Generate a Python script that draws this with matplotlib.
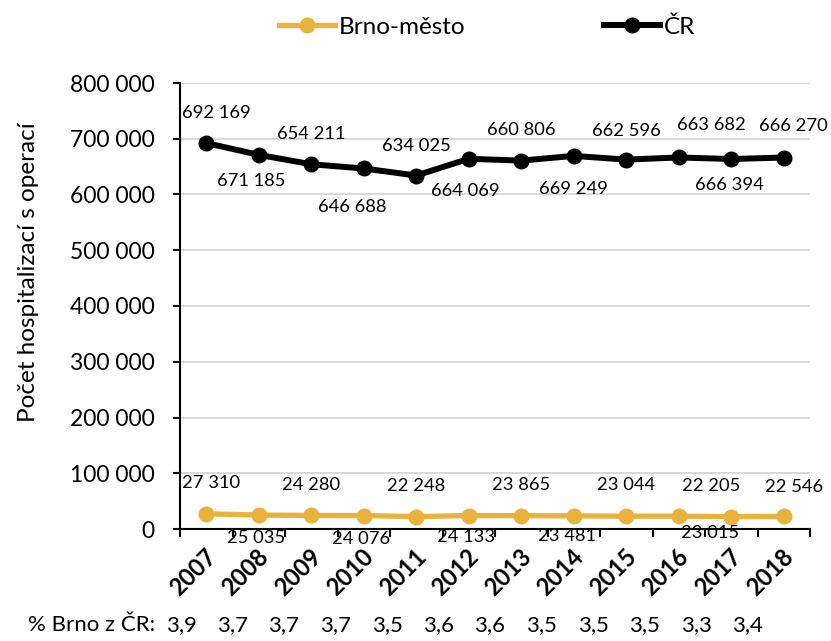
import matplotlib
matplotlib.use('Agg')
import matplotlib.pyplot as plt
import matplotlib.transforms as mtrans
from matplotlib.lines import Line2D
from matplotlib.ticker import FuncFormatter, FixedLocator
import numpy as np

# ---------------- data ----------------
years = ['2007', '2008', '2009', '2010', '2011', '2012',
         '2013', '2014', '2015', '2016', '2017', '2018']
brno = [27310, 25035, 24280, 24076, 22248, 24133,
        23865, 23481, 23044, 23015, 22205, 22546]
cr = [692169, 671185, 654211, 646688, 634025, 664069,
      660806, 669249, 662596, 666394, 663682, 666270]
pct_brno = [3.9, 3.7, 3.7, 3.7, 3.5, 3.6, 3.6, 3.5, 3.5, 3.5, 3.3, 3.4]
y_ticks = [0, 100000, 200000, 300000, 400000, 500000, 600000, 700000, 800000]
series_names = ['Brno-město', 'ČR']
y_title = 'Počet hospitalizací s operací'
pct_title = '% Brno z ČR:'

# label offsets in pixels (style / placement)
cr_off = [(10, 30), (-8, -26), (0, 30), (-11, -39), (0, 30), (-3, -32),
          (0, 31), (0, -33), (0, 29), (51, -28), (-20, 34), (10, 32)]
brno_off = [(5, 31), (-3, -23), (0, 30), (-3, -23), (0, 31), (-3, -21),
            (0, 31), (-7, -20), (0, 31), (31, -17), (-20, 31), (10, 29)]

FONT = ['Lato', 'DejaVu Sans']
plt.rcParams['font.family'] = FONT
GOLD = '#E9B23C'
GRID = '#D9D9D9'

W, H = 831, 641
fig = plt.figure(figsize=(W / 100, H / 100), dpi=100)
ax = fig.add_axes([180 / W, 1 - 529 / H, 630 / W, 446 / H])

x = np.arange(len(years))

ax.plot(x, cr, color='black', lw=4.3, marker='o', ms=10.5, zorder=4, clip_on=False,
        solid_joinstyle='round')
ax.plot(x, brno, color=GOLD, lw=3.8, marker='o', ms=10.5, zorder=4, clip_on=False,
        solid_joinstyle='round')

def fmt(v):
    return '{:,}'.format(int(v)).replace(',', ' ')

for i, v in enumerate(cr):
    ax.annotate(fmt(v), (x[i], v), xytext=cr_off[i], textcoords='offset pixels',
                ha='center', va='center', fontsize=13.2, color='black', zorder=5)
for i, v in enumerate(brno):
    ax.annotate(fmt(v), (x[i], v), xytext=brno_off[i], textcoords='offset pixels',
                ha='center', va='center', fontsize=13.2, color='black', zorder=5)

ax.set_xlim(-0.5, len(years) - 0.5)
ax.set_ylim(0, 800000)
ax.set_yticks(y_ticks)
ax.yaxis.set_major_formatter(FuncFormatter(lambda v, p: fmt(v)))
ax.grid(axis='y', color=GRID, lw=1.5, zorder=0)
ax.set_axisbelow(True)

for s in ['top', 'right']:
    ax.spines[s].set_visible(False)
for s in ['left', 'bottom']:
    ax.spines[s].set_linewidth(1.5)
    ax.spines[s].set_color('black')

ax.tick_params(axis='y', length=5, width=1.5, pad=13, labelsize=16.5, direction='out')

# x ticks: marks on category boundaries, labels at centres
ax.xaxis.set_major_locator(FixedLocator(np.arange(-0.5, len(years), 1.0)))
ax.xaxis.set_major_formatter(FuncFormatter(lambda v, p: ''))
ax.xaxis.set_minor_locator(FixedLocator(x))
ax.set_xticks(x, years, minor=True)
ax.tick_params(axis='x', which='major', length=6, width=1.5, direction='out')
ax.tick_params(axis='x', which='minor', length=0, pad=11, labelsize=17)
offset = mtrans.ScaledTranslation(-2 / 100, 0, fig.dpi_scale_trans)
for lab in ax.get_xticklabels(minor=True):
    lab.set_rotation(45)
    lab.set_ha('right')
    lab.set_va('top')
    lab.set_rotation_mode('anchor')
    lab.set_fontweight('bold')
    lab.set_transform(lab.get_transform() + offset)

ax.set_ylabel(y_title, fontsize=17.5)
ax.yaxis.set_label_coords(-0.224, 0.576)

# percentage row
row_y = 1 - 625 / H
fig.text(155 / W, row_y, pct_title, ha='right', va='center', fontsize=16)
for i, p in enumerate(pct_brno):
    px = 181 + 51.5 * i
    fig.text(px / W, row_y, ('%.1f' % p).replace('.', ','), ha='center', va='center',
             fontsize=16)

# legend
handles = [Line2D([0], [0], color=GOLD, lw=3.8, marker='o', ms=10.5),
           Line2D([0], [0], color='black', lw=4.3, marker='o', ms=10.5)]
fig.legend(handles, series_names, loc='center', bbox_to_anchor=(487 / W, 1 - 27 / H),
           ncol=2, frameon=False, fontsize=17.5, handlelength=2.3, handletextpad=0.15,
           columnspacing=5.7, borderaxespad=0)

fig.savefig('out.png', dpi=100)
